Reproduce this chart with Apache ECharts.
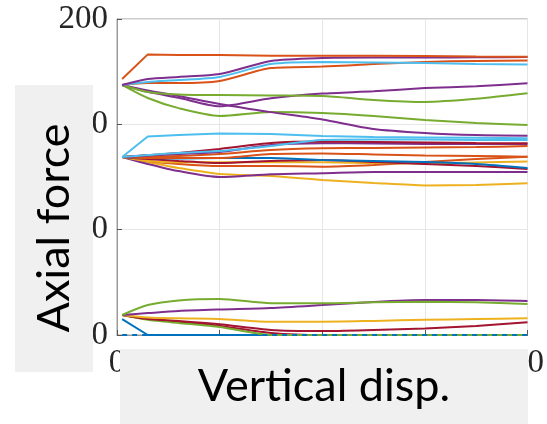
<!DOCTYPE html>
<html>
<head>
<meta charset="utf-8">
<script src="https://cdn.jsdelivr.net/npm/echarts@6/dist/echarts.min.js"></script>
<style>
  html, body { margin: 0; padding: 0; background: #fff; }
  #chart { width: 547px; height: 424px; }
</style>
</head>
<body>
<div id="chart"></div>
<script>
// Vertical displacement steps shared by every curve
const dispSteps = [0.25, 1.5, 3, 5, 7.5, 10, 12.5, 15, 17.5, 20];

// Axis ticks
const yTicks = [50, 100, 150, 200];
const xTicks = [0, 5, 10, 15, 20];

// Upper family of members (start near 169)
const hiOrangeTop   = [171.5, 183.2, 182.9, 182.9, 182.6, 182.6, 182.5, 182.4, 182.2, 182.1];
const hiPurpleRise  = [168.7, 171.5, 172.5, 173.9, 180.1, 181.5, 181.7, 181.7, 181.8, 182.0];
const hiCyanRise    = [168.7, 170.1, 171.0, 172.5, 178.6, 179.6, 179.4, 179.1, 178.6, 178.4];
const hiOrangeRise  = [168.7, 169.6, 169.6, 170.6, 176.7, 177.4, 178.6, 179.6, 180.1, 180.3];
const hiGreenFlat   = [168.7, 165.4, 164.2, 163.9, 163.7, 163.5, 161.6, 160.6, 162.1, 164.7];
const hiPurpleDip   = [168.7, 165.4, 162.6, 158.6, 162.4, 164.6, 165.7, 167.2, 168.1, 169.5];
const hiPurpleFall  = [168.7, 166.1, 163.5, 159.7, 155.8, 152.3, 147.8, 145.9, 144.9, 144.6];
const hiGreenLow    = [168.7, 162.5, 157.7, 154.0, 155.9, 155.4, 154.0, 152.1, 150.6, 149.7];

// Middle family (start near 134.5)
const midCyanTop    = [134.5, 144.2, 144.9, 145.7, 145.4, 144.5, 144.0, 143.8, 143.6, 143.4];
const midCyan       = [134.5, 135.4, 136.4, 137.3, 139.7, 142.6, 142.8, 142.8, 142.6, 142.6];
const midRed        = [134.5, 135.4, 136.4, 138.3, 141.1, 141.8, 141.6, 141.4, 141.1, 141.0];
const midPurple     = [134.5, 135.2, 135.9, 136.9, 140.2, 141.0, 140.9, 140.7, 140.7, 140.7];
const midOrange     = [134.5, 134.7, 135.0, 135.9, 137.8, 138.6, 138.8, 139.0, 139.2, 139.7];
const midOrange2    = [134.5, 134.0, 134.0, 134.0, 135.9, 136.2, 135.7, 135.2, 135.0, 134.6];
const midBlue       = [134.5, 134.0, 133.8, 134.0, 134.0, 133.1, 132.6, 132.1, 131.2, 129.3];
const midRed2       = [134.5, 133.5, 132.6, 131.6, 132.6, 133.1, 132.1, 131.2, 130.2, 128.8];
const midYellow     = [134.5, 132.6, 132.0, 132.0, 132.0, 132.0, 131.6, 131.4, 131.9, 132.3];
const midOrange3    = [134.5, 132.6, 131.2, 130.2, 130.2, 129.9, 130.7, 132.1, 133.5, 134.6];
const midPurple2    = [134.5, 131.2, 127.8, 125.0, 126.3, 126.8, 127.4, 127.4, 127.4, 127.4];
const midYellow2    = [134.5, 132.1, 129.3, 126.4, 125.5, 123.6, 122.2, 121.0, 121.2, 122.0];

// Lower family (start near 59.5)
const loBlueDrop    = [57.5, 50, 50, 50, 50, 50, 50, 50, 50, 50];
const loRedDrop     = [59.5, 57.6, 56.2, 54.3, 51.0, 50, 50, 50, 50, 50];
const loGreenDrop   = [59.5, 57.2, 55.7, 53.8, 50, 50, 50, 50, 50, 50];
const loGreenTop    = [59.5, 64.2, 66.4, 67.1, 65.1, 65.1, 65.5, 65.8, 65.5, 64.7];
const loPurple      = [59.5, 60.4, 61.4, 62.1, 62.8, 64.2, 65.7, 66.6, 66.6, 66.1];
const loYellow      = [59.5, 58.3, 57.9, 57.6, 56.3, 56.3, 56.7, 57.2, 57.6, 57.9];
const loRed         = [59.5, 57.6, 56.7, 55.1, 52.4, 51.9, 52.4, 53.1, 54.3, 56.0];
const loBaseline    = [50, 50, 50, 50, 50, 50, 50, 50, 50, 50];

const palette = {
  blue: '#0072BD', orange: '#D95319', yellow: '#EDB120', purple: '#7E2F8E',
  green: '#77AC30', cyan: '#4DBEEE', red: '#A2142F'
};

// [values, colour, smoothing]; curves with a sharp early kink stay straight-segmented
const curves = [
  [loBlueDrop, 'blue', 0], [loRedDrop, 'red', 0.2], [loGreenDrop, 'green', 0.2],
  [loRed, 'red', 0.25], [loYellow, 'yellow', 0.25], [loPurple, 'purple', 0.25], [loGreenTop, 'green', 0.25],
  [midYellow2, 'yellow', 0.25], [midPurple2, 'purple', 0.25], [midOrange3, 'orange', 0.25], [midYellow, 'yellow', 0.25],
  [midRed2, 'red', 0.25], [midBlue, 'blue', 0.25], [midOrange2, 'orange', 0.25], [midOrange, 'orange', 0.25],
  [midPurple, 'purple', 0.25], [midRed, 'red', 0.25], [midCyan, 'cyan', 0.25], [midCyanTop, 'cyan', 0],
  [hiGreenLow, 'green', 0.25], [hiPurpleFall, 'purple', 0.25], [hiPurpleDip, 'purple', 0.25], [hiGreenFlat, 'green', 0.25],
  [hiOrangeRise, 'orange', 0.25], [hiCyanRise, 'cyan', 0.25], [hiPurpleRise, 'purple', 0.25], [hiOrangeTop, 'orange', 0]
];

const pair = vals => dispSteps.map((x, i) => [x, vals[i]]);

const series = curves.map(([vals, c, s]) => ({
  type: 'line',
  data: pair(vals),
  showSymbol: false,
  clip: false,
  smooth: s,
  lineStyle: { color: palette[c], width: 2 },
  emphasis: { disabled: true }
}));

series.push({
  type: 'line',
  data: pair(loBaseline),
  showSymbol: false,
  clip: false,
  lineStyle: { color: palette.blue, width: 2, type: [5, 5] },
  emphasis: { disabled: true }
});

const tickFont = { fontFamily: 'Liberation Serif', fontSize: 33, color: '#262626' };
const frame = '#9a9a9a';

const chart = echarts.init(document.getElementById('chart'), null, { renderer: 'canvas' });
chart.setOption({
  animation: false,
  backgroundColor: '#ffffff',
  grid: { left: 117, right: 17, top: 19, bottom: 89, show: true, borderColor: frame, borderWidth: 1, backgroundColor: 'transparent' },
  xAxis: [{
    type: 'value', min: xTicks[0], max: xTicks[xTicks.length - 1], interval: 5,
    axisLine: { show: true, lineStyle: { color: frame } },
    axisTick: { show: true, inside: true, length: 5, lineStyle: { color: '#555' } },
    splitLine: { show: true, lineStyle: { color: '#e6e6e6', width: 1 } },
    axisLabel: Object.assign({ margin: 12 }, tickFont)
  }],
  yAxis: [{
    type: 'value', min: yTicks[0], max: yTicks[yTicks.length - 1], interval: 50,
    axisLine: { show: true, lineStyle: { color: frame } },
    axisTick: { show: true, inside: true, length: 5, lineStyle: { color: '#555' } },
    splitLine: { show: true, lineStyle: { color: '#e6e6e6', width: 1 } },
    axisLabel: Object.assign({ margin: 9 }, tickFont)
  }],
  series: series,
  graphic: [
    { type: 'rect', shape: { x: 15, y: 85, width: 78, height: 287 }, style: { fill: '#f0f0f0' }, z: 100 },
    { type: 'text', x: 54, y: 228, rotation: Math.PI / 2, z: 101,
      style: { text: 'Axial force', fontFamily: 'Lato', fontSize: 45, fill: '#000', align: 'center', verticalAlign: 'middle' } },
    { type: 'rect', shape: { x: 120, y: 349, width: 408, height: 80 }, style: { fill: '#f0f0f0' }, z: 100 },
    { type: 'text', x: 324, y: 386, z: 101,
      style: { text: 'Vertical disp.', fontFamily: 'Lato', fontSize: 45, fill: '#000', align: 'center', verticalAlign: 'middle' } }
  ]
});
</script>
</body>
</html>
